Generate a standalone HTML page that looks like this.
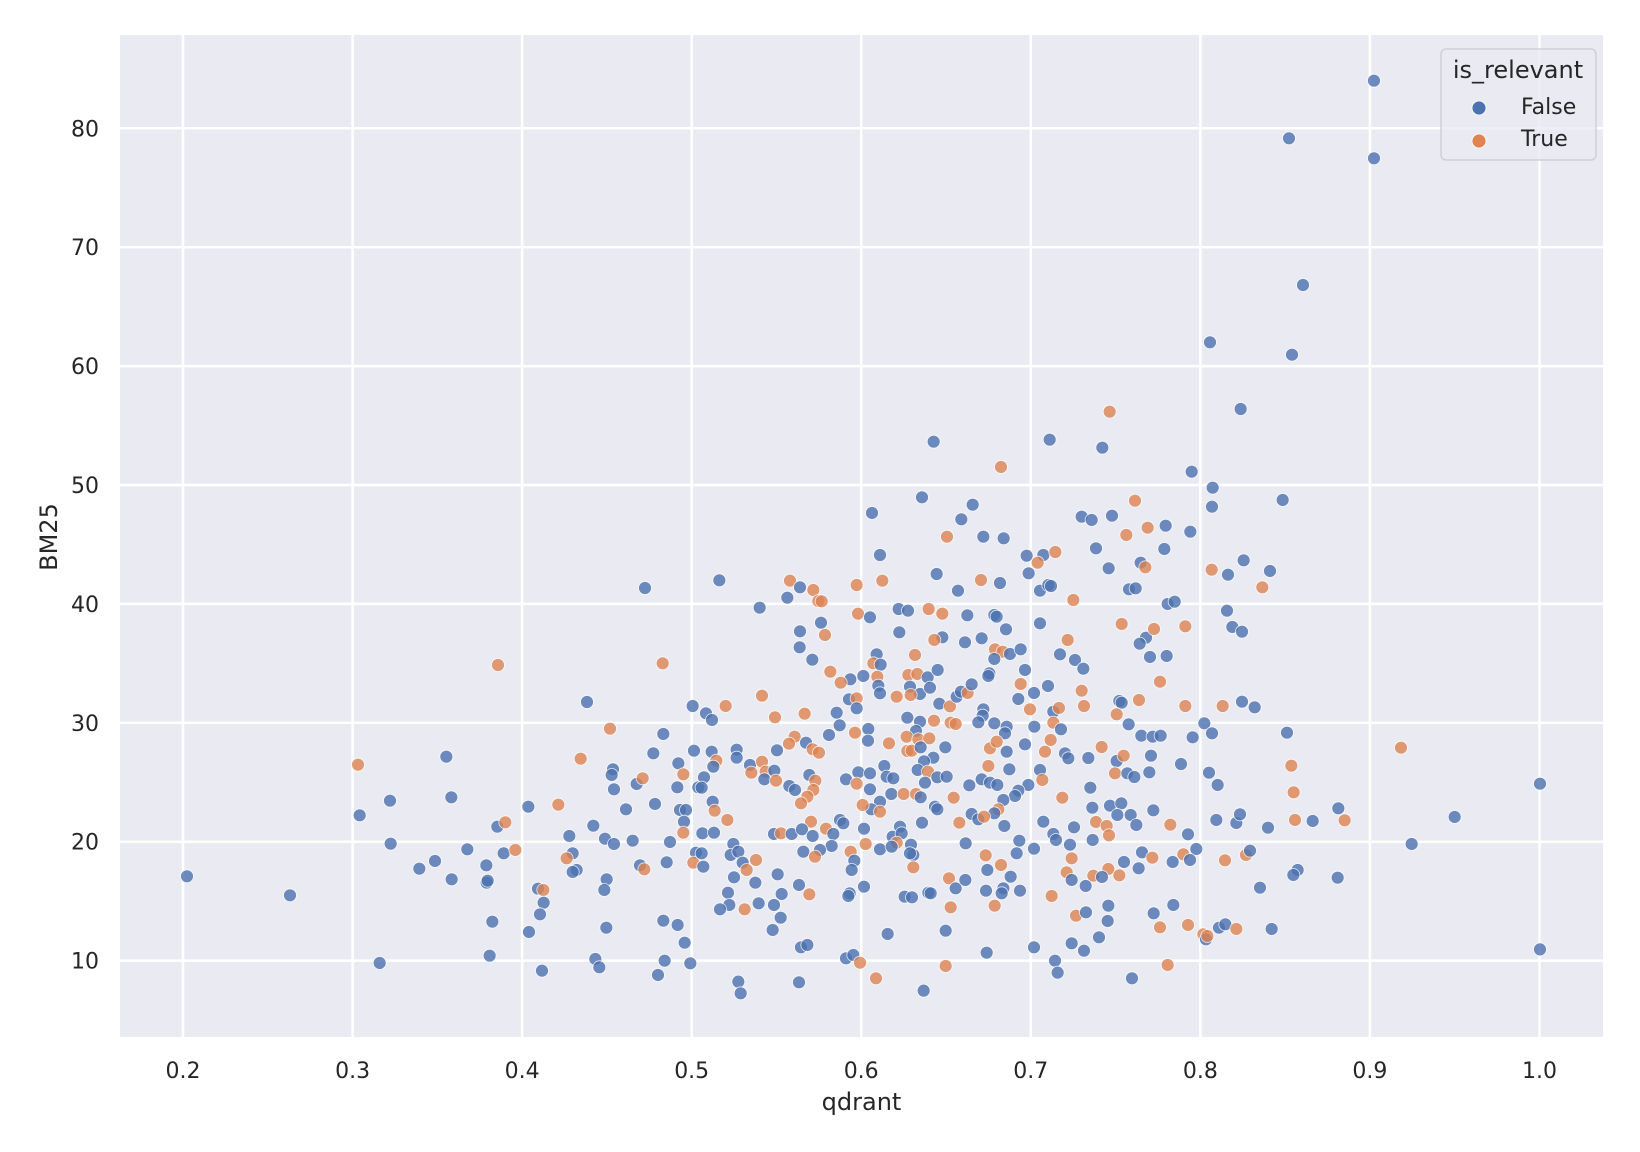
<!DOCTYPE html>
<html><head><meta charset="utf-8"><style>
html,body{margin:0;padding:0;background:#fff}
svg{display:block}
text{font-family:"DejaVu Sans","Liberation Sans",sans-serif;fill:#262626}
.b{fill:#4c72b0}.o{fill:#dd8452}
.p circle{stroke:#fff;opacity:.8}
</style></head><body>
<svg width="1640" height="1152" viewBox="0 0 1640 1152" xmlns="http://www.w3.org/2000/svg">
<rect width="1640" height="1152" fill="#fff"/>
<rect x="120" y="35" width="1483" height="1002" fill="#eaeaf2"/>
<g stroke="#fff" stroke-width="2.5">
<line x1="183" y1="35" x2="183" y2="1037"/><line x1="352.6" y1="35" x2="352.6" y2="1037"/><line x1="522.1" y1="35" x2="522.1" y2="1037"/><line x1="691.7" y1="35" x2="691.7" y2="1037"/><line x1="861.2" y1="35" x2="861.2" y2="1037"/><line x1="1030.8" y1="35" x2="1030.8" y2="1037"/><line x1="1200.4" y1="35" x2="1200.4" y2="1037"/><line x1="1369.9" y1="35" x2="1369.9" y2="1037"/><line x1="1539.5" y1="35" x2="1539.5" y2="1037"/>
<line x1="120" y1="128.3" x2="1603" y2="128.3"/><line x1="120" y1="247.2" x2="1603" y2="247.2"/><line x1="120" y1="366.1" x2="1603" y2="366.1"/><line x1="120" y1="485" x2="1603" y2="485"/><line x1="120" y1="603.9" x2="1603" y2="603.9"/><line x1="120" y1="722.8" x2="1603" y2="722.8"/><line x1="120" y1="841.7" x2="1603" y2="841.7"/><line x1="120" y1="960.6" x2="1603" y2="960.6"/>
</g>
<g font-size="22" text-anchor="end">
<text x="99" y="136.3">80</text><text x="99" y="255.2">70</text><text x="99" y="374.1">60</text><text x="99" y="493">50</text><text x="99" y="611.9">40</text><text x="99" y="730.8">30</text><text x="99" y="849.7">20</text><text x="99" y="968.6">10</text>
</g>
<g font-size="22" text-anchor="middle">
<text x="183" y="1078">0.2</text><text x="352.6" y="1078">0.3</text><text x="522.1" y="1078">0.4</text><text x="691.7" y="1078">0.5</text><text x="861.2" y="1078">0.6</text><text x="1030.8" y="1078">0.7</text><text x="1200.4" y="1078">0.8</text><text x="1369.9" y="1078">0.9</text><text x="1539.5" y="1078">1.0</text>
</g>
<text x="861.5" y="1110" font-size="24" text-anchor="middle">qdrant</text>
<text transform="translate(57,537) rotate(-90)" font-size="24" text-anchor="middle">BM25</text>

<g class="p">
<g stroke-width=".8">
<circle class="b" cx="187" cy="876.3" r="6.5"/><circle class="b" cx="290" cy="895.3" r="6.5"/><circle class="b" cx="645" cy="588" r="6.5"/><circle class="b" cx="1374" cy="80.7" r="6.5"/><circle class="b" cx="1289" cy="138.3" r="6.5"/><circle class="b" cx="1374" cy="158.3" r="6.5"/><circle class="b" cx="1303" cy="285" r="6.5"/><circle class="b" cx="1210" cy="342.3" r="6.5"/><circle class="b" cx="1292" cy="354.7" r="6.5"/><circle class="b" cx="1540" cy="783.7" r="6.5"/><circle class="b" cx="1540" cy="949.4" r="6.5"/>
</g>
<!-- crop 4 -->
<g transform="translate(330,640) scale(0.33333)" stroke-width="2.4">
<circle class="o" cx="504" cy="75" r="19.5"/><circle class="o" cx="998" cy="70" r="19.5"/><circle class="b" cx="771" cy="186" r="19.5"/><circle class="b" cx="1088" cy="198" r="19.5"/><circle class="o" cx="840" cy="266" r="19.5"/><circle class="b" cx="1000" cy="282" r="19.5"/><circle class="b" cx="349" cy="350" r="19.5"/><circle class="o" cx="84" cy="374" r="19.5"/><circle class="o" cx="752" cy="356" r="19.5"/><circle class="b" cx="970" cy="340" r="19.5"/><circle class="b" cx="1092" cy="332" r="19.5"/><circle class="b" cx="1045" cy="370" r="19.5"/><circle class="b" cx="849" cy="388" r="19.5"/><circle class="b" cx="845" cy="405" r="19.5"/><circle class="b" cx="920" cy="432" r="19.5"/><circle class="o" cx="938" cy="415" r="19.5"/><circle class="o" cx="1060" cy="403" r="19.5"/><circle class="b" cx="1042" cy="442" r="19.5"/><circle class="b" cx="1105" cy="442" r="19.5"/><circle class="b" cx="852" cy="448" r="19.5"/><circle class="b" cx="180" cy="482" r="19.5"/><circle class="b" cx="364" cy="472" r="19.5"/><circle class="b" cx="595" cy="500" r="19.5"/><circle class="o" cx="685" cy="494" r="19.5"/><circle class="b" cx="888" cy="508" r="19.5"/><circle class="b" cx="975" cy="492" r="19.5"/><circle class="b" cx="1050" cy="510" r="19.5"/><circle class="b" cx="1068" cy="510" r="19.5"/><circle class="b" cx="1062" cy="545" r="19.5"/><circle class="b" cx="89" cy="526" r="19.5"/><circle class="b" cx="502" cy="560" r="19.5"/><circle class="o" cx="526" cy="547" r="19.5"/><circle class="b" cx="790" cy="557" r="19.5"/><circle class="b" cx="718" cy="588" r="19.5"/><circle class="b" cx="825" cy="596" r="19.5"/><circle class="b" cx="852" cy="612" r="19.5"/><circle class="b" cx="908" cy="602" r="19.5"/><circle class="b" cx="1020" cy="606" r="19.5"/><circle class="o" cx="1060" cy="578" r="19.5"/><circle class="b" cx="182" cy="611" r="19.5"/><circle class="b" cx="412" cy="628" r="19.5"/><circle class="b" cx="521" cy="640" r="19.5"/><circle class="o" cx="556" cy="630" r="19.5"/><circle class="b" cx="728" cy="640" r="19.5"/><circle class="o" cx="710" cy="655" r="19.5"/><circle class="b" cx="1098" cy="638" r="19.5"/><circle class="b" cx="315" cy="663" r="19.5"/><circle class="b" cx="268" cy="686" r="19.5"/><circle class="b" cx="469" cy="676" r="19.5"/><circle class="b" cx="740" cy="690" r="19.5"/><circle class="b" cx="728" cy="696" r="19.5"/><circle class="b" cx="930" cy="676" r="19.5"/><circle class="o" cx="943" cy="688" r="19.5"/><circle class="b" cx="1010" cy="667" r="19.5"/><circle class="o" cx="1090" cy="668" r="19.5"/><circle class="b" cx="365" cy="718" r="19.5"/><circle class="b" cx="470" cy="728" r="19.5"/><circle class="b" cx="473" cy="722" r="19.5"/><circle class="b" cx="830" cy="718" r="19.5"/><circle class="b" cx="624" cy="746" r="19.5"/><circle class="o" cx="640" cy="750" r="19.5"/><circle class="b" cx="823" cy="750" r="19.5"/><circle class="b" cx="641" cy="788" r="19.5"/><circle class="b" cx="630" cy="823" r="19.5"/><circle class="b" cx="487" cy="845" r="19.5"/><circle class="b" cx="597" cy="876" r="19.5"/><circle class="b" cx="829" cy="863" r="19.5"/><circle class="b" cx="1000" cy="842" r="19.5"/><circle class="b" cx="1043" cy="855" r="19.5"/><circle class="b" cx="1064" cy="908" r="19.5"/><circle class="b" cx="479" cy="947" r="19.5"/><circle class="b" cx="149" cy="969" r="19.5"/><circle class="b" cx="796" cy="957" r="19.5"/><circle class="b" cx="808" cy="982" r="19.5"/><circle class="b" cx="636" cy="992" r="19.5"/><circle class="b" cx="1004" cy="962" r="19.5"/><circle class="b" cx="1081" cy="970" r="19.5"/><circle class="b" cx="984" cy="1005" r="19.5"/>
</g>
<!-- crop 8 -->
<g transform="translate(700,380) scale(0.33333)" stroke-width="2.4">
<circle class="b" cx="701" cy="185" r="19.5"/><circle class="b" cx="1049" cy="179" r="19.5"/><circle class="o" cx="903" cy="261" r="19.5"/><circle class="b" cx="666" cy="352" r="19.5"/><circle class="b" cx="516" cy="399" r="19.5"/><circle class="b" cx="818" cy="374" r="19.5"/><circle class="b" cx="784" cy="418" r="19.5"/><circle class="o" cx="741" cy="470" r="19.5"/><circle class="b" cx="850" cy="470" r="19.5"/><circle class="b" cx="911" cy="475" r="19.5"/>
</g>
<!-- crop 5 -->
<g transform="translate(700,540) scale(0.33333)" stroke-width="2.4">
<circle class="b" cx="540" cy="45" r="19.5"/><circle class="b" cx="980" cy="47" r="19.5"/><circle class="b" cx="1030" cy="45" r="19.5"/><circle class="o" cx="1066" cy="36" r="19.5"/><circle class="o" cx="1013" cy="68" r="19.5"/><circle class="b" cx="986" cy="100" r="19.5"/><circle class="b" cx="58" cy="121" r="19.5"/><circle class="o" cx="270" cy="122" r="19.5"/><circle class="b" cx="300" cy="142" r="19.5"/><circle class="o" cx="340" cy="150" r="19.5"/><circle class="o" cx="355" cy="183" r="19.5"/><circle class="o" cx="365" cy="184" r="19.5"/><circle class="b" cx="262" cy="173" r="19.5"/><circle class="b" cx="179" cy="203" r="19.5"/><circle class="o" cx="470" cy="135" r="19.5"/><circle class="o" cx="547" cy="122" r="19.5"/><circle class="b" cx="710" cy="102" r="19.5"/><circle class="o" cx="843" cy="120" r="19.5"/><circle class="b" cx="900" cy="129" r="19.5"/><circle class="b" cx="774" cy="152" r="19.5"/><circle class="b" cx="1020" cy="152" r="19.5"/><circle class="b" cx="1045" cy="135" r="19.5"/><circle class="b" cx="1053" cy="138" r="19.5"/><circle class="o" cx="1120" cy="180" r="19.5"/><circle class="b" cx="596" cy="207" r="19.5"/><circle class="b" cx="624" cy="212" r="19.5"/><circle class="o" cx="686" cy="207" r="19.5"/><circle class="o" cx="727" cy="221" r="19.5"/><circle class="b" cx="802" cy="226" r="19.5"/><circle class="b" cx="883" cy="225" r="19.5"/><circle class="b" cx="890" cy="230" r="19.5"/><circle class="o" cx="474" cy="221" r="19.5"/><circle class="b" cx="510" cy="232" r="19.5"/><circle class="b" cx="363" cy="248" r="19.5"/><circle class="b" cx="300" cy="274" r="19.5"/><circle class="o" cx="375" cy="285" r="19.5"/><circle class="b" cx="598" cy="277" r="19.5"/><circle class="b" cx="918" cy="268" r="19.5"/><circle class="b" cx="1020" cy="250" r="19.5"/><circle class="b" cx="727" cy="292" r="19.5"/><circle class="o" cx="703" cy="300" r="19.5"/><circle class="b" cx="795" cy="307" r="19.5"/><circle class="b" cx="845" cy="295" r="19.5"/><circle class="o" cx="1103" cy="300" r="19.5"/><circle class="b" cx="299" cy="322" r="19.5"/><circle class="b" cx="337" cy="359" r="19.5"/><circle class="b" cx="530" cy="343" r="19.5"/><circle class="o" cx="520" cy="370" r="19.5"/><circle class="b" cx="542" cy="374" r="19.5"/><circle class="o" cx="645" cy="345" r="19.5"/><circle class="o" cx="885" cy="328" r="19.5"/><circle class="o" cx="908" cy="335" r="19.5"/><circle class="b" cx="930" cy="342" r="19.5"/><circle class="b" cx="962" cy="328" r="19.5"/><circle class="b" cx="1080" cy="343" r="19.5"/><circle class="b" cx="1125" cy="360" r="19.5"/><circle class="b" cx="883" cy="357" r="19.5"/><circle class="o" cx="391" cy="395" r="19.5"/><circle class="b" cx="451" cy="418" r="19.5"/><circle class="o" cx="422" cy="428" r="19.5"/><circle class="b" cx="490" cy="408" r="19.5"/><circle class="o" cx="532" cy="410" r="19.5"/><circle class="b" cx="535" cy="437" r="19.5"/><circle class="b" cx="540" cy="460" r="19.5"/><circle class="o" cx="625" cy="405" r="19.5"/><circle class="o" cx="652" cy="402" r="19.5"/><circle class="b" cx="683" cy="412" r="19.5"/><circle class="b" cx="713" cy="390" r="19.5"/><circle class="b" cx="868" cy="400" r="19.5"/><circle class="b" cx="865" cy="408" r="19.5"/><circle class="b" cx="975" cy="390" r="19.5"/><circle class="o" cx="962" cy="432" r="19.5"/><circle class="b" cx="1044" cy="438" r="19.5"/><circle class="b" cx="630" cy="440" r="19.5"/><circle class="b" cx="660" cy="462" r="19.5"/><circle class="b" cx="690" cy="443" r="19.5"/><circle class="o" cx="590" cy="470" r="19.5"/><circle class="o" cx="632" cy="465" r="19.5"/><circle class="b" cx="447" cy="478" r="19.5"/><circle class="o" cx="470" cy="475" r="19.5"/><circle class="b" cx="470" cy="505" r="19.5"/><circle class="o" cx="186" cy="467" r="19.5"/><circle class="o" cx="77" cy="498" r="19.5"/><circle class="b" cx="18" cy="520" r="19.5"/><circle class="b" cx="36" cy="540" r="19.5"/><circle class="o" cx="225" cy="532" r="19.5"/><circle class="o" cx="314" cy="521" r="19.5"/><circle class="b" cx="410" cy="518" r="19.5"/><circle class="b" cx="419" cy="556" r="19.5"/><circle class="b" cx="387" cy="585" r="19.5"/><circle class="b" cx="718" cy="491" r="19.5"/><circle class="o" cx="750" cy="499" r="19.5"/><circle class="b" cx="770" cy="470" r="19.5"/><circle class="b" cx="783" cy="455" r="19.5"/><circle class="o" cx="803" cy="459" r="19.5"/><circle class="b" cx="815" cy="433" r="19.5"/><circle class="b" cx="955" cy="477" r="19.5"/><circle class="b" cx="1002" cy="459" r="19.5"/><circle class="o" cx="990" cy="508" r="19.5"/><circle class="b" cx="1060" cy="515" r="19.5"/><circle class="o" cx="1077" cy="504" r="19.5"/><circle class="o" cx="1060" cy="548" r="19.5"/><circle class="b" cx="1083" cy="568" r="19.5"/><circle class="b" cx="850" cy="508" r="19.5"/><circle class="b" cx="848" cy="527" r="19.5"/><circle class="b" cx="835" cy="547" r="19.5"/><circle class="b" cx="883" cy="550" r="19.5"/><circle class="b" cx="920" cy="560" r="19.5"/><circle class="b" cx="915" cy="580" r="19.5"/><circle class="o" cx="752" cy="548" r="19.5"/><circle class="o" cx="767" cy="552" r="19.5"/><circle class="b" cx="1003" cy="560" r="19.5"/><circle class="b" cx="622" cy="533" r="19.5"/><circle class="b" cx="660" cy="545" r="19.5"/><circle class="o" cx="702" cy="542" r="19.5"/><circle class="b" cx="505" cy="567" r="19.5"/><circle class="b" cx="504" cy="602" r="19.5"/><circle class="o" cx="465" cy="578" r="19.5"/><circle class="b" cx="648" cy="573" r="19.5"/><circle class="o" cx="620" cy="590" r="19.5"/><circle class="o" cx="655" cy="598" r="19.5"/><circle class="o" cx="688" cy="595" r="19.5"/><circle class="o" cx="567" cy="610" r="19.5"/><circle class="o" cx="284" cy="590" r="19.5"/><circle class="o" cx="267" cy="611" r="19.5"/><circle class="b" cx="318" cy="608" r="19.5"/><circle class="b" cx="231" cy="631" r="19.5"/><circle class="b" cx="110" cy="629" r="19.5"/><circle class="b" cx="110" cy="653" r="19.5"/><circle class="b" cx="35" cy="635" r="19.5"/><circle class="o" cx="49" cy="662" r="19.5"/><circle class="b" cx="40" cy="680" r="19.5"/><circle class="b" cx="12" cy="712" r="19.5"/><circle class="b" cx="5" cy="743" r="19.5"/><circle class="o" cx="338" cy="628" r="19.5"/><circle class="o" cx="357" cy="638" r="19.5"/><circle class="b" cx="736" cy="622" r="19.5"/><circle class="o" cx="870" cy="625" r="19.5"/><circle class="o" cx="890" cy="605" r="19.5"/><circle class="b" cx="920" cy="635" r="19.5"/><circle class="b" cx="975" cy="613" r="19.5"/><circle class="o" cx="1052" cy="600" r="19.5"/><circle class="o" cx="1035" cy="635" r="19.5"/><circle class="b" cx="1095" cy="640" r="19.5"/><circle class="b" cx="1105" cy="655" r="19.5"/><circle class="o" cx="622" cy="633" r="19.5"/><circle class="o" cx="635" cy="632" r="19.5"/><circle class="b" cx="662" cy="622" r="19.5"/><circle class="b" cx="700" cy="653" r="19.5"/><circle class="b" cx="672" cy="664" r="19.5"/><circle class="b" cx="150" cy="675" r="19.5"/><circle class="o" cx="186" cy="665" r="19.5"/><circle class="o" cx="154" cy="698" r="19.5"/><circle class="o" cx="197" cy="695" r="19.5"/><circle class="b" cx="223" cy="692" r="19.5"/><circle class="b" cx="193" cy="718" r="19.5"/><circle class="o" cx="228" cy="722" r="19.5"/><circle class="b" cx="328" cy="705" r="19.5"/><circle class="o" cx="346" cy="722" r="19.5"/><circle class="o" cx="340" cy="750" r="19.5"/><circle class="o" cx="322" cy="770" r="19.5"/><circle class="o" cx="303" cy="790" r="19.5"/><circle class="b" cx="268" cy="738" r="19.5"/><circle class="b" cx="285" cy="750" r="19.5"/><circle class="o" cx="865" cy="678" r="19.5"/><circle class="b" cx="928" cy="688" r="19.5"/><circle class="b" cx="1020" cy="690" r="19.5"/><circle class="b" cx="653" cy="690" r="19.5"/><circle class="b" cx="475" cy="697" r="19.5"/><circle class="b" cx="510" cy="700" r="19.5"/><circle class="b" cx="553" cy="678" r="19.5"/><circle class="b" cx="560" cy="710" r="19.5"/><circle class="b" cx="580" cy="715" r="19.5"/><circle class="o" cx="684" cy="695" r="19.5"/><circle class="b" cx="438" cy="718" r="19.5"/><circle class="o" cx="470" cy="731" r="19.5"/><circle class="b" cx="510" cy="748" r="19.5"/><circle class="b" cx="675" cy="728" r="19.5"/><circle class="b" cx="712" cy="712" r="19.5"/><circle class="b" cx="740" cy="710" r="19.5"/><circle class="b" cx="808" cy="736" r="19.5"/><circle class="b" cx="845" cy="718" r="19.5"/><circle class="b" cx="870" cy="728" r="19.5"/><circle class="b" cx="892" cy="735" r="19.5"/><circle class="b" cx="985" cy="735" r="19.5"/><circle class="b" cx="955" cy="752" r="19.5"/><circle class="b" cx="945" cy="768" r="19.5"/><circle class="o" cx="1027" cy="720" r="19.5"/><circle class="b" cx="38" cy="785" r="19.5"/><circle class="o" cx="44" cy="812" r="19.5"/><circle class="o" cx="82" cy="840" r="19.5"/><circle class="b" cx="574" cy="762" r="19.5"/><circle class="o" cx="611" cy="762" r="19.5"/><circle class="o" cx="648" cy="762" r="19.5"/><circle class="b" cx="662" cy="772" r="19.5"/><circle class="b" cx="540" cy="785" r="19.5"/><circle class="b" cx="514" cy="808" r="19.5"/><circle class="o" cx="540" cy="815" r="19.5"/><circle class="o" cx="488" cy="795" r="19.5"/><circle class="b" cx="705" cy="800" r="19.5"/><circle class="b" cx="712" cy="808" r="19.5"/><circle class="o" cx="761" cy="773" r="19.5"/><circle class="b" cx="910" cy="780" r="19.5"/><circle class="o" cx="895" cy="808" r="19.5"/><circle class="b" cx="883" cy="820" r="19.5"/><circle class="b" cx="815" cy="822" r="19.5"/><circle class="b" cx="835" cy="838" r="19.5"/><circle class="o" cx="852" cy="830" r="19.5"/><circle class="o" cx="1087" cy="773" r="19.5"/><circle class="o" cx="333" cy="845" r="19.5"/><circle class="o" cx="378" cy="866" r="19.5"/><circle class="b" cx="420" cy="840" r="19.5"/><circle class="b" cx="430" cy="850" r="19.5"/><circle class="b" cx="400" cy="882" r="19.5"/><circle class="b" cx="492" cy="866" r="19.5"/><circle class="b" cx="666" cy="848" r="19.5"/><circle class="o" cx="778" cy="848" r="19.5"/><circle class="b" cx="913" cy="858" r="19.5"/><circle class="b" cx="1030" cy="845" r="19.5"/><circle class="b" cx="1060" cy="882" r="19.5"/><circle class="b" cx="1068" cy="900" r="19.5"/><circle class="b" cx="1122" cy="862" r="19.5"/><circle class="b" cx="7" cy="880" r="19.5"/><circle class="b" cx="42" cy="878" r="19.5"/><circle class="b" cx="222" cy="882" r="19.5"/><circle class="o" cx="243" cy="880" r="19.5"/><circle class="b" cx="275" cy="882" r="19.5"/><circle class="b" cx="306" cy="868" r="19.5"/><circle class="b" cx="338" cy="888" r="19.5"/><circle class="b" cx="600" cy="860" r="19.5"/><circle class="b" cx="578" cy="890" r="19.5"/><circle class="b" cx="605" cy="880" r="19.5"/><circle class="o" cx="590" cy="908" r="19.5"/><circle class="b" cx="100" cy="912" r="19.5"/><circle class="b" cx="92" cy="945" r="19.5"/><circle class="b" cx="115" cy="935" r="19.5"/><circle class="b" cx="128" cy="968" r="19.5"/><circle class="o" cx="140" cy="990" r="19.5"/><circle class="o" cx="168" cy="960" r="19.5"/><circle class="b" cx="5" cy="940" r="19.5"/><circle class="b" cx="10" cy="980" r="19.5"/><circle class="b" cx="310" cy="935" r="19.5"/><circle class="b" cx="395" cy="918" r="19.5"/><circle class="b" cx="360" cy="930" r="19.5"/><circle class="o" cx="345" cy="950" r="19.5"/><circle class="o" cx="452" cy="935" r="19.5"/><circle class="b" cx="463" cy="962" r="19.5"/><circle class="b" cx="455" cy="990" r="19.5"/><circle class="o" cx="497" cy="912" r="19.5"/><circle class="b" cx="540" cy="928" r="19.5"/><circle class="b" cx="575" cy="920" r="19.5"/><circle class="b" cx="633" cy="914" r="19.5"/><circle class="b" cx="640" cy="945" r="19.5"/><circle class="b" cx="630" cy="940" r="19.5"/><circle class="o" cx="640" cy="982" r="19.5"/><circle class="b" cx="797" cy="910" r="19.5"/><circle class="b" cx="958" cy="902" r="19.5"/><circle class="b" cx="950" cy="940" r="19.5"/><circle class="b" cx="1002" cy="926" r="19.5"/><circle class="o" cx="857" cy="946" r="19.5"/><circle class="b" cx="862" cy="990" r="19.5"/><circle class="o" cx="903" cy="975" r="19.5"/><circle class="b" cx="1110" cy="914" r="19.5"/><circle class="o" cx="1115" cy="955" r="19.5"/><circle class="o" cx="1100" cy="997" r="19.5"/><circle class="b" cx="1115" cy="1020" r="19.5"/><circle class="b" cx="102" cy="1012" r="19.5"/><circle class="b" cx="166" cy="1028" r="19.5"/><circle class="b" cx="233" cy="1003" r="19.5"/><circle class="b" cx="84" cy="1058" r="19.5"/><circle class="b" cx="88" cy="1095" r="19.5"/><circle class="b" cx="60" cy="1108" r="19.5"/><circle class="o" cx="134" cy="1108" r="19.5"/><circle class="b" cx="176" cy="1090" r="19.5"/><circle class="b" cx="222" cy="1095" r="19.5"/><circle class="b" cx="245" cy="1062" r="19.5"/><circle class="b" cx="242" cy="1133" r="19.5"/><circle class="b" cx="218" cy="1170" r="19.5"/><circle class="b" cx="297" cy="1035" r="19.5"/><circle class="o" cx="328" cy="1063" r="19.5"/><circle class="b" cx="449" cy="1060" r="19.5"/><circle class="b" cx="445" cy="1068" r="19.5"/><circle class="b" cx="492" cy="1040" r="19.5"/><circle class="b" cx="614" cy="1070" r="19.5"/><circle class="b" cx="636" cy="1072" r="19.5"/><circle class="b" cx="685" cy="1058" r="19.5"/><circle class="b" cx="692" cy="1060" r="19.5"/><circle class="o" cx="747" cy="1015" r="19.5"/><circle class="b" cx="767" cy="1045" r="19.5"/><circle class="b" cx="796" cy="1020" r="19.5"/><circle class="o" cx="752" cy="1102" r="19.5"/><circle class="b" cx="858" cy="1052" r="19.5"/><circle class="o" cx="884" cy="1097" r="19.5"/><circle class="b" cx="910" cy="1045" r="19.5"/><circle class="b" cx="932" cy="1010" r="19.5"/><circle class="b" cx="905" cy="1060" r="19.5"/><circle class="b" cx="960" cy="1052" r="19.5"/><circle class="o" cx="1055" cy="1068" r="19.5"/><circle class="o" cx="1128" cy="1127" r="19.5"/><circle class="b" cx="563" cy="1182" r="19.5"/><circle class="b" cx="737" cy="1172" r="19.5"/><circle class="b" cx="1002" cy="1222" r="19.5"/><circle class="b" cx="1115" cy="1210" r="19.5"/><circle class="b" cx="303" cy="1222" r="19.5"/><circle class="b" cx="322" cy="1215" r="19.5"/><circle class="b" cx="438" cy="1255" r="19.5"/><circle class="b" cx="460" cy="1245" r="19.5"/><circle class="o" cx="480" cy="1268" r="19.5"/><circle class="o" cx="528" cy="1315" r="19.5"/><circle class="o" cx="737" cy="1278" r="19.5"/><circle class="b" cx="860" cy="1238" r="19.5"/><circle class="b" cx="1065" cy="1262" r="19.5"/><circle class="b" cx="1073" cy="1298" r="19.5"/><circle class="b" cx="115" cy="1325" r="19.5"/><circle class="b" cx="122" cy="1360" r="19.5"/><circle class="b" cx="297" cy="1327" r="19.5"/><circle class="b" cx="671" cy="1352" r="19.5"/>
</g>
<!-- crop 6 -->
<g transform="translate(1080,380) scale(0.33333)" stroke-width="2.4">
<circle class="o" cx="89" cy="95" r="19.5"/><circle class="b" cx="482" cy="87" r="19.5"/><circle class="b" cx="67" cy="203" r="19.5"/><circle class="b" cx="335" cy="275" r="19.5"/><circle class="b" cx="398" cy="323" r="19.5"/><circle class="b" cx="608" cy="360" r="19.5"/><circle class="o" cx="165" cy="362" r="19.5"/><circle class="b" cx="396" cy="380" r="19.5"/><circle class="b" cx="5" cy="410" r="19.5"/><circle class="b" cx="35" cy="420" r="19.5"/><circle class="b" cx="96" cy="407" r="19.5"/><circle class="o" cx="203" cy="443" r="19.5"/><circle class="o" cx="139" cy="465" r="19.5"/><circle class="b" cx="257" cy="437" r="19.5"/><circle class="b" cx="331" cy="455" r="19.5"/><circle class="b" cx="48" cy="505" r="19.5"/><circle class="b" cx="253" cy="507" r="19.5"/><circle class="b" cx="182" cy="548" r="19.5"/><circle class="o" cx="196" cy="562" r="19.5"/><circle class="b" cx="86" cy="565" r="19.5"/><circle class="b" cx="491" cy="541" r="19.5"/><circle class="o" cx="395" cy="569" r="19.5"/><circle class="b" cx="444" cy="584" r="19.5"/><circle class="b" cx="570" cy="573" r="19.5"/><circle class="o" cx="547" cy="622" r="19.5"/><circle class="b" cx="147" cy="628" r="19.5"/><circle class="b" cx="167" cy="625" r="19.5"/><circle class="b" cx="263" cy="672" r="19.5"/><circle class="b" cx="284" cy="665" r="19.5"/><circle class="b" cx="441" cy="692" r="19.5"/><circle class="o" cx="125" cy="732" r="19.5"/><circle class="b" cx="198" cy="773" r="19.5"/><circle class="b" cx="179" cy="791" r="19.5"/><circle class="o" cx="222" cy="747" r="19.5"/><circle class="o" cx="316" cy="739" r="19.5"/><circle class="b" cx="457" cy="741" r="19.5"/><circle class="b" cx="486" cy="755" r="19.5"/><circle class="b" cx="210" cy="831" r="19.5"/><circle class="b" cx="260" cy="828" r="19.5"/><circle class="b" cx="10" cy="866" r="19.5"/><circle class="o" cx="240" cy="905" r="19.5"/><circle class="o" cx="5" cy="932" r="19.5"/>
</g>
<!-- crop 7 -->
<g transform="translate(1080,700) scale(0.33333)" stroke-width="2.4">
<circle class="o" cx="12" cy="18" r="19.5"/><circle class="b" cx="118" cy="3" r="19.5"/><circle class="b" cx="125" cy="8" r="19.5"/><circle class="o" cx="177" cy="0" r="19.5"/><circle class="o" cx="316" cy="18" r="19.5"/><circle class="o" cx="428" cy="18" r="19.5"/><circle class="b" cx="486" cy="5" r="19.5"/><circle class="b" cx="524" cy="22" r="19.5"/><circle class="o" cx="110" cy="43" r="19.5"/><circle class="b" cx="146" cy="73" r="19.5"/><circle class="b" cx="373" cy="70" r="19.5"/><circle class="b" cx="396" cy="100" r="19.5"/><circle class="b" cx="184" cy="107" r="19.5"/><circle class="b" cx="218" cy="110" r="19.5"/><circle class="b" cx="242" cy="107" r="19.5"/><circle class="b" cx="338" cy="112" r="19.5"/><circle class="b" cx="621" cy="98" r="19.5"/><circle class="o" cx="963" cy="143" r="19.5"/><circle class="o" cx="65" cy="141" r="19.5"/><circle class="b" cx="25" cy="174" r="19.5"/><circle class="b" cx="110" cy="183" r="19.5"/><circle class="o" cx="131" cy="167" r="19.5"/><circle class="b" cx="213" cy="167" r="19.5"/><circle class="b" cx="303" cy="192" r="19.5"/><circle class="b" cx="387" cy="218" r="19.5"/><circle class="b" cx="413" cy="255" r="19.5"/><circle class="o" cx="634" cy="197" r="19.5"/><circle class="o" cx="105" cy="220" r="19.5"/><circle class="b" cx="142" cy="220" r="19.5"/><circle class="b" cx="163" cy="231" r="19.5"/><circle class="b" cx="208" cy="217" r="19.5"/><circle class="b" cx="31" cy="263" r="19.5"/><circle class="o" cx="641" cy="277" r="19.5"/><circle class="b" cx="37" cy="323" r="19.5"/><circle class="b" cx="90" cy="317" r="19.5"/><circle class="b" cx="124" cy="310" r="19.5"/><circle class="b" cx="112" cy="345" r="19.5"/><circle class="b" cx="152" cy="345" r="19.5"/><circle class="b" cx="169" cy="375" r="19.5"/><circle class="b" cx="220" cy="331" r="19.5"/><circle class="o" cx="48" cy="366" r="19.5"/><circle class="o" cx="80" cy="378" r="19.5"/><circle class="o" cx="87" cy="406" r="19.5"/><circle class="b" cx="38" cy="420" r="19.5"/><circle class="o" cx="271" cy="374" r="19.5"/><circle class="b" cx="324" cy="403" r="19.5"/><circle class="b" cx="409" cy="360" r="19.5"/><circle class="b" cx="469" cy="369" r="19.5"/><circle class="b" cx="480" cy="343" r="19.5"/><circle class="b" cx="564" cy="383" r="19.5"/><circle class="o" cx="645" cy="360" r="19.5"/><circle class="b" cx="698" cy="363" r="19.5"/><circle class="b" cx="775" cy="325" r="19.5"/><circle class="o" cx="794" cy="361" r="19.5"/><circle class="b" cx="1124" cy="351" r="19.5"/><circle class="b" cx="995" cy="432" r="19.5"/><circle class="b" cx="349" cy="447" r="19.5"/><circle class="b" cx="186" cy="457" r="19.5"/><circle class="o" cx="217" cy="473" r="19.5"/><circle class="o" cx="310" cy="463" r="19.5"/><circle class="b" cx="330" cy="480" r="19.5"/><circle class="b" cx="278" cy="486" r="19.5"/><circle class="b" cx="132" cy="486" r="19.5"/><circle class="b" cx="176" cy="505" r="19.5"/><circle class="o" cx="85" cy="507" r="19.5"/><circle class="o" cx="40" cy="527" r="19.5"/><circle class="b" cx="66" cy="531" r="19.5"/><circle class="o" cx="118" cy="526" r="19.5"/><circle class="b" cx="17" cy="558" r="19.5"/><circle class="o" cx="435" cy="481" r="19.5"/><circle class="o" cx="498" cy="465" r="19.5"/><circle class="b" cx="510" cy="452" r="19.5"/><circle class="b" cx="540" cy="563" r="19.5"/><circle class="b" cx="653" cy="510" r="19.5"/><circle class="b" cx="640" cy="525" r="19.5"/><circle class="b" cx="773" cy="533" r="19.5"/><circle class="b" cx="85" cy="617" r="19.5"/><circle class="b" cx="18" cy="637" r="19.5"/><circle class="b" cx="83" cy="663" r="19.5"/><circle class="b" cx="280" cy="615" r="19.5"/><circle class="b" cx="221" cy="640" r="19.5"/><circle class="o" cx="240" cy="682" r="19.5"/><circle class="o" cx="324" cy="675" r="19.5"/><circle class="o" cx="370" cy="703" r="19.5"/><circle class="b" cx="378" cy="718" r="19.5"/><circle class="o" cx="382" cy="708" r="19.5"/><circle class="b" cx="417" cy="683" r="19.5"/><circle class="b" cx="436" cy="673" r="19.5"/><circle class="o" cx="469" cy="687" r="19.5"/><circle class="b" cx="575" cy="687" r="19.5"/><circle class="b" cx="57" cy="712" r="19.5"/><circle class="b" cx="12" cy="752" r="19.5"/><circle class="o" cx="263" cy="795" r="19.5"/><circle class="b" cx="156" cy="835" r="19.5"/>
</g>
</g>

<!-- legend -->
<rect x="1441" y="49" width="155" height="111" rx="5" ry="5" fill="#eaeaf2" fill-opacity="0.8" stroke="#cfcfd6" stroke-width="1.5"/>
<text x="1518" y="78" font-size="24" text-anchor="middle">is_relevant</text>
<circle cx="1479" cy="108" r="7" fill="#4c72b0" stroke="#fff" stroke-width="0.8"/>
<circle cx="1479" cy="141" r="7" fill="#dd8452" stroke="#fff" stroke-width="0.8"/>
<text x="1521" y="114" font-size="22">False</text>
<text x="1521" y="146" font-size="22">True</text>
</svg>
</body></html>
